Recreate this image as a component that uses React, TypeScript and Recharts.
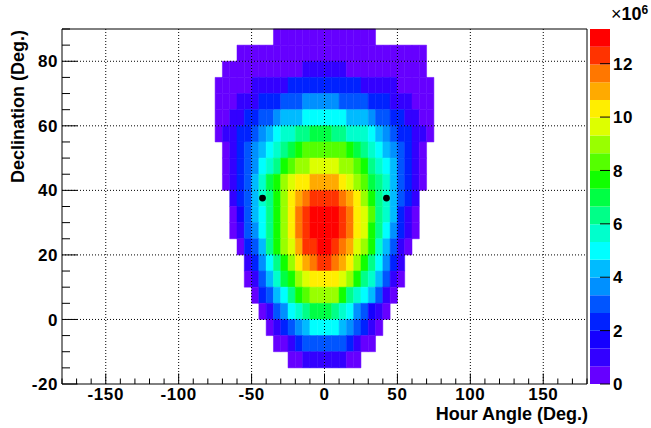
import React from 'react'
import { ScatterChart, Scatter, XAxis, YAxis, ReferenceArea, ReferenceLine, BarChart, Bar, Label } from 'recharts'

const _ = null

// left edges of the hour-angle bins (deg), 5 deg wide
const hourBins = [-75, -70, -65, -60, -55, -50, -45, -40, -35, -30, -25, -20, -15, -10, -5, 0, 5, 10, 15, 20, 25, 30, 35, 40, 45, 50, 55, 60, 65, 70]
// lower edges of the declination bins (deg), top row first
const decBins = [85, 80, 75, 70, 65, 60, 55, 50, 45, 40, 35, 30, 25, 20, 15, 10, 5, 0, -5, -10, -15]

// entries per bin, x10^6
const dec85 = [_, _, _, _, _, _, _, _, 0.3, 0.3, 0.3, 0.3, 0.3, 0.3, 0.3, 0.3, 0.3, 0.3, 0.3, 0.3, 0.3, 0.3, _, _, _, _, _, _, _, _]
const dec80 = [_, _, _, 0.3, 0.3, 0.3, 0.3, 0.3, 0.3, 0.3, 0.3, 0.3, 0.3, 0.3, 0.3, 0.3, 0.3, 0.3, 0.3, 0.3, 0.3, 0.3, 0.3, 0.3, 0.3, 0.3, 0.3, 0.3, 0.3, _]
const dec75 = [_, 0.3, 0.3, 0.3, 0.3, 0.3, 0.3, 0.3, 0.3, 0.3, 0.3, 0.3, 1.0, 1.0, 1.0, 1.0, 1.0, 1.0, 0.3, 0.3, 0.3, 0.3, 0.3, 0.3, 0.3, 0.3, 0.3, 0.3, 0.3, _]
const dec70 = [0.3, 0.3, 0.3, 0.3, 0.3, 1.0, 1.0, 1.0, 1.0, 1.0, 2.3, 2.3, 2.3, 2.3, 2.3, 2.3, 2.3, 2.3, 2.3, 2.3, 1.0, 1.0, 1.0, 1.0, 1.0, 0.3, 0.3, 0.3, 0.3, 0.3]
const dec65 = [0.3, 0.3, 0.3, 1.0, 1.0, 1.0, 2.3, 2.3, 2.3, 3.0, 3.0, 3.0, 3.7, 3.7, 3.7, 3.7, 3.7, 3.0, 3.0, 3.0, 3.0, 2.3, 2.3, 2.3, 1.0, 1.0, 1.0, 0.3, 0.3, 0.3]
const dec60 = [0.3, 0.3, 1.0, 1.0, 2.3, 2.3, 3.0, 3.0, 3.7, 4.3, 4.3, 4.3, 5.0, 5.0, 5.0, 5.0, 5.0, 5.0, 4.3, 4.3, 4.3, 3.7, 3.0, 3.0, 2.3, 2.3, 1.0, 1.0, 0.3, 0.3]
const dec55 = [0.3, 1.0, 1.0, 2.3, 2.3, 3.0, 3.7, 4.3, 5.0, 5.6, 5.6, 6.3, 6.3, 7.0, 7.0, 7.0, 6.3, 6.3, 5.6, 5.6, 5.6, 5.0, 4.3, 3.7, 3.0, 2.3, 2.3, 1.0, 1.0, 0.3]
const dec50 = [_, 0.3, 1.0, 2.3, 3.0, 3.7, 4.3, 5.0, 5.6, 6.3, 7.0, 7.6, 8.3, 8.3, 8.3, 8.3, 8.3, 8.3, 7.6, 7.0, 6.3, 5.6, 5.0, 4.3, 3.7, 3.0, 2.3, 1.0, 0.3, _]
const dec45 = [_, 0.3, 1.0, 2.3, 3.0, 3.7, 5.0, 5.6, 6.3, 7.6, 8.3, 9.0, 9.0, 9.6, 9.6, 9.6, 9.6, 9.0, 9.0, 8.3, 7.6, 6.3, 5.6, 5.0, 4.3, 3.0, 2.3, 1.0, 0.3, _]
const dec40 = [_, 0.3, 1.0, 2.3, 3.0, 4.3, 5.6, 7.0, 7.6, 9.0, 9.6, 10.3, 10.3, 11.0, 11.0, 11.0, 11.0, 10.3, 9.6, 9.0, 8.3, 7.0, 6.3, 5.6, 4.3, 3.0, 2.3, 1.0, 0.3, _]
const dec35 = [_, _, 1.0, 2.3, 3.0, 4.3, 5.6, 6.3, 7.6, 9.0, 10.3, 11.0, 11.6, 12.3, 12.3, 12.3, 12.3, 11.6, 11.0, 10.3, 9.0, 7.6, 6.3, 5.6, 4.3, 3.0, 2.3, 1.0, _, _]
const dec30 = [_, _, 0.3, 1.7, 3.0, 4.3, 5.0, 6.3, 7.6, 9.0, 10.3, 11.6, 12.3, 13.0, 13.0, 13.0, 13.0, 12.3, 11.6, 10.3, 9.6, 8.3, 6.3, 5.6, 4.3, 2.3, 1.0, 0.3, _, _]
const dec25 = [_, _, 0.3, 1.0, 3.0, 3.7, 5.0, 6.3, 7.6, 9.0, 10.3, 11.6, 12.3, 13.0, 13.0, 13.0, 13.0, 12.3, 11.6, 10.3, 9.6, 7.6, 6.3, 5.0, 3.7, 2.3, 1.0, 0.3, _, _]
const dec20 = [_, _, _, 0.3, 2.3, 3.0, 4.3, 6.3, 7.6, 9.0, 9.6, 11.0, 12.3, 12.3, 13.0, 13.0, 12.3, 11.6, 11.0, 9.6, 9.0, 7.6, 5.6, 4.3, 3.0, 1.0, 0.3, _, _, _]
const dec15 = [_, _, _, _, 1.0, 2.3, 3.7, 5.0, 6.3, 7.6, 9.0, 10.3, 11.0, 11.6, 12.3, 12.3, 11.6, 11.0, 10.3, 9.0, 7.6, 6.3, 5.0, 3.7, 2.3, 1.0, _, _, _, _]
const dec10 = [_, _, _, _, 0.3, 1.0, 3.0, 4.3, 5.6, 7.0, 7.6, 9.0, 9.6, 10.3, 10.3, 10.3, 10.3, 9.6, 9.0, 7.6, 6.3, 5.6, 4.3, 3.0, 1.0, 0.3, _, _, _, _]
const dec05 = [_, _, _, _, _, 0.3, 2.3, 3.0, 4.3, 5.0, 6.3, 7.6, 8.3, 9.0, 9.0, 9.0, 9.0, 7.6, 6.3, 5.6, 5.0, 4.3, 3.0, 1.0, 0.3, _, _, _, _, _]
const dec00 = [_, _, _, _, _, _, 0.3, 1.0, 3.0, 3.7, 5.0, 5.6, 6.3, 7.0, 7.0, 7.0, 6.3, 5.6, 5.0, 3.7, 3.0, 1.7, 1.0, 0.3, _, _, _, _, _, _]
const decM05 = [_, _, _, _, _, _, _, 0.3, 1.0, 2.3, 3.0, 3.7, 4.3, 5.0, 5.0, 5.0, 5.0, 4.3, 3.7, 3.0, 2.3, 1.0, 0.3, _, _, _, _, _, _, _]
const decM10 = [_, _, _, _, _, _, _, _, 0.3, 0.3, 1.0, 2.3, 3.0, 3.0, 3.0, 3.0, 3.0, 3.0, 2.3, 1.0, 0.3, 0.3, _, _, _, _, _, _, _, _]
const decM15 = [_, _, _, _, _, _, _, _, _, _, 0.3, 0.3, 1.0, 1.0, 1.0, 1.0, 1.0, 1.0, 0.3, 0.3, _, _, _, _, _, _, _, _, _, _]

const counts = [dec85, dec80, dec75, dec70, dec65, dec60, dec55, dec50, dec45, dec40, dec35, dec30, dec25, dec20, dec15, dec10, dec05, dec00, decM05, decM10, decM15]

// the two black markers
const markerHA = [-42.5, 42.5]
const markerDec = [37.6, 37.6]

const xMajor = [-150, -100, -50, 0, 50, 100, 150]
const xTicks = [-180, -170, -160, -150, -140, -130, -120, -110, -100, -90, -80, -70, -60, -50, -40, -30, -20, -10, 0, 10, 20, 30, 40, 50, 60, 70, 80, 90, 100, 110, 120, 130, 140, 150, 160, 170, 180]
const yMajor = [-20, 0, 20, 40, 60, 80]
const yTicks = [-20, -15, -10, -5, 0, 5, 10, 15, 20, 25, 30, 35, 40, 45, 50, 55, 60, 65, 70, 75, 80, 85, 90]
const zTicks = [0, 2, 4, 6, 8, 10, 12]
const zMax = 13.3

const palette = [
  '#6600ff', '#3300ff', '#1500ff', '#0022ff', '#0055ff',
  '#0090ff', '#00bbff', '#00ffff', '#00ffcc', '#00ff88',
  '#00ff44', '#11ff00', '#55ff00', '#99ff00', '#ddff00',
  '#ffee00', '#ffaa00', '#ff7700', '#ff3300', '#ff0000',
]

const BIN = 5
const FONT = '"Liberation Sans", Arial, Helvetica, sans-serif'
const tickText = { fontFamily: FONT, fontWeight: 'bold', fontSize: 17, letterSpacing: 0.6, fill: '#000' } as const

const colorOf = (v: number) => palette[Math.min(palette.length - 1, Math.floor(v / (zMax / palette.length)))]

const cells: { x1: number; x2: number; y1: number; y2: number; fill: string }[] = []
decBins.forEach((dec, r) => {
  counts[r].forEach((v, c) => {
    if (v == null) return
    cells.push({ x1: hourBins[c], x2: hourBins[c] + BIN, y1: dec, y2: dec + BIN, fill: colorOf(v) })
  })
})

const markers = markerHA.map((x, i) => ({ x, y: markerDec[i] }))
const barRow = [Object.fromEntries(palette.map((_c, i) => [`b${i}`, zMax / palette.length]))]

const XTick = (props: any) => {
  const { x, y, payload } = props
  const major = xMajor.includes(payload.value)
  return (
    <g>
      <line x1={x} x2={x} y1={y} y2={y - (major ? 10.5 : 5.5)} stroke="#000" strokeWidth={1} />
      {major && (
        <text x={x} y={y + 16} textAnchor="middle" {...tickText}>
          {payload.value}
        </text>
      )}
    </g>
  )
}

const YTick = (props: any) => {
  const { x, y, payload } = props
  const major = yMajor.includes(payload.value)
  return (
    <g>
      <line x1={x} x2={x + (major ? 15.5 : 8)} y1={y} y2={y} stroke="#000" strokeWidth={1} />
      {major && (
        <text x={x - 4} y={y} dy="0.36em" textAnchor="end" {...tickText}>
          {payload.value}
        </text>
      )}
    </g>
  )
}

const ZTick = (props: any) => {
  const { x, y, payload } = props
  return (
    <g>
      <line x1={x - 10} x2={x} y1={y} y2={y} stroke="#000" strokeWidth={1} />
      <text x={x + 3} y={y} dy="0.36em" textAnchor="start" {...tickText}>
        {payload.value}
      </text>
    </g>
  )
}

const XTitle = (props: any) => {
  const vb = props.viewBox
  return (
    <text x={vb.x + vb.width + 1} y={vb.y + 36} textAnchor="end" fontFamily={FONT} fontWeight="bold" fontSize={18} fill="#000">
      Hour Angle (Deg.)
    </text>
  )
}

const YTitle = (props: any) => {
  const vb = props.viewBox
  const tx = vb.x + 24
  const ty = vb.y + 1
  return (
    <text x={tx} y={ty} transform={`rotate(-90 ${tx} ${ty})`} textAnchor="end" fontFamily={FONT} fontWeight="bold" fontSize={18} fill="#000">
      Declination (Deg.)
    </text>
  )
}

export default function App() {
  return (
    <div style={{ position: 'absolute', left: 0, top: 0, width: 651, height: 428, background: '#fff' }}>
      <div style={{ position: 'absolute', left: 0, top: 0 }}>
        <ScatterChart width={651} height={428} margin={{ top: 29, right: 64, bottom: 0, left: 0 }}>
          <XAxis
            type="number"
            dataKey="x"
            domain={[-180, 180]}
            ticks={xTicks}
            interval={0}
            allowDataOverflow
            height={44}
            axisLine={false}
            tickLine={false}
            tickSize={0}
            tickMargin={0}
            tick={XTick}
          >
            <Label content={XTitle} />
          </XAxis>
          <YAxis
            type="number"
            dataKey="y"
            domain={[-20, 90]}
            ticks={yTicks}
            interval={0}
            allowDataOverflow
            width={62}
            axisLine={false}
            tickLine={false}
            tickSize={0}
            tickMargin={0}
            tick={YTick}
          >
            <Label content={YTitle} />
          </YAxis>
          {cells.map((c, i) => (
            <ReferenceArea
              key={`c${i}`}
              x1={c.x1}
              x2={c.x2}
              y1={c.y1}
              y2={c.y2}
              fill={c.fill}
              fillOpacity={1}
              stroke={c.fill}
              strokeWidth={0.5}
              zIndex={100}
            />
          ))}
          {xMajor.map((v) => (
            <ReferenceLine key={`gx${v}`} x={v} stroke="#000" strokeDasharray="1 2" strokeWidth={1} zIndex={300} />
          ))}
          {yMajor.filter((v) => v > -20).map((v) => (
            <ReferenceLine key={`gy${v}`} y={v} stroke="#000" strokeDasharray="1 2" strokeWidth={1} zIndex={300} />
          ))}
          <ReferenceArea x1={-180} x2={180} y1={-20} y2={90} fill="none" fillOpacity={0} stroke="#000" strokeWidth={1} zIndex={350} />
          <Scatter
            data={markers}
            isAnimationActive={false}
            zIndex={700}
            shape={(p: any) => <circle cx={p.cx} cy={p.cy} r={3.4} fill="#000" />}
          />
        </ScatterChart>
      </div>
      <div style={{ position: 'absolute', left: 590, top: 0 }}>
        <BarChart width={61} height={428} data={barRow} margin={{ top: 29, right: 0, bottom: 44, left: 0 }} barCategoryGap={0} barGap={0}>
          <XAxis hide />
          <YAxis
            orientation="right"
            width={41}
            domain={[0, zMax]}
            ticks={zTicks}
            interval={0}
            allowDataOverflow
            axisLine={false}
            tickLine={false}
            tickSize={0}
            tickMargin={0}
            tick={ZTick}
          />
          {palette.map((c, i) => (
            <Bar key={`b${i}`} dataKey={`b${i}`} stackId="z" fill={c} isAnimationActive={false} />
          ))}
        </BarChart>
      </div>
      <div
        style={{
          position: 'absolute',
          left: 611,
          top: 4,
          fontFamily: FONT,
          fontWeight: 'bold',
          fontSize: 18,
          lineHeight: '20px',
          color: '#000',
          whiteSpace: 'nowrap',
        }}
      >
        <span style={{ fontWeight: 'normal' }}>×</span>10<sup style={{ fontSize: 12, verticalAlign: 'top', position: 'relative', top: -4 }}>6</sup>
      </div>
    </div>
  )
}
